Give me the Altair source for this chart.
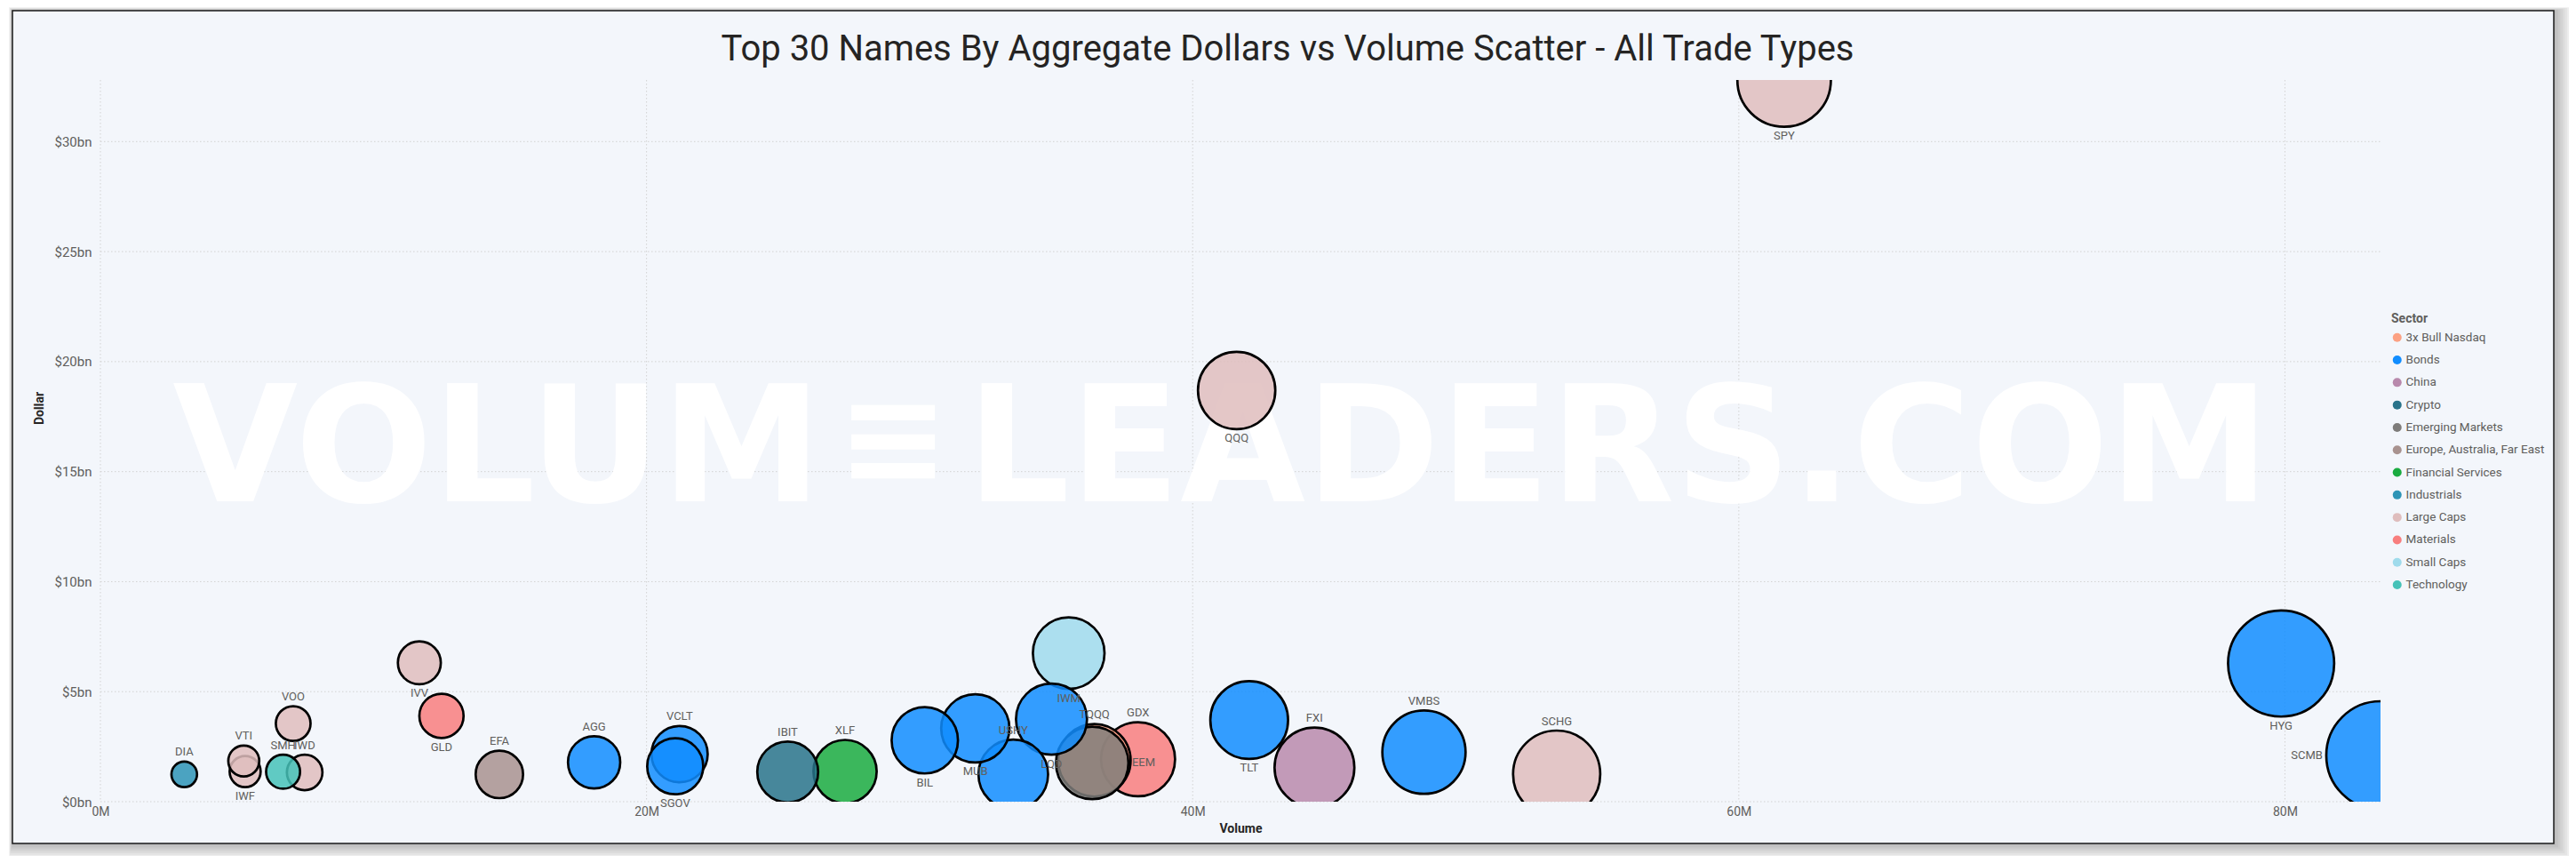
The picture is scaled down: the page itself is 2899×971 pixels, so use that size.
import altair as alt
import pandas as pd

# ---------------- data ----------------
tickers = ["SPY", "QQQ", "HYG", "SCMB", "VMBS", "SCHG", "FXI", "TLT", "GDX", "EEM",
           "TQQQ", "IWM", "LQD", "USHY", "MUB", "BIL", "XLF", "IBIT", "SGOV", "VCLT",
           "AGG", "EFA", "GLD", "IVV", "VOO", "IWD", "SMH", "VTI", "IWF", "DIA"]
sectors = ["Large Caps", "Large Caps", "Bonds", "Bonds", "Bonds", "Large Caps", "China", "Bonds",
           "Materials", "Emerging Markets", "3x Bull Nasdaq", "Small Caps", "Bonds", "Bonds",
           "Bonds", "Bonds", "Financial Services", "Crypto", "Bonds", "Bonds", "Bonds",
           "Europe, Australia, Far East", "Materials", "Large Caps", "Large Caps", "Large Caps",
           "Technology", "Large Caps", "Large Caps", "Industrials"]
volume_m = [61.66, 41.61, 79.86, 83.50, 48.47, 53.33, 44.46, 42.07, 38.00, 36.32,
            36.40, 35.46, 34.83, 33.43, 32.04, 30.19, 27.27, 25.17, 21.05, 21.21,
            18.08, 14.61, 12.49, 11.68, 7.06, 7.48, 6.69, 5.25, 5.30, 3.07]
dollar_bn = [32.80, 18.69, 6.28, 2.10, 2.25, 1.25, 1.55, 3.71, 1.93, 1.76,
             1.88, 6.75, 3.75, 1.24, 3.33, 2.79, 1.37, 1.35, 1.61, 2.16,
             1.79, 1.24, 3.90, 6.31, 3.55, 1.33, 1.36, 1.85, 1.37, 1.24]
label_side = ["below", "below", "below", "left", "above", "above", "above", "below", "above", "right",
              "above", "below", "below", "above", "below", "below", "above", "above", "below", "above",
              "above", "above", "below", "below", "above", "above", "above", "above", "below", "above"]

sector_names = ["3x Bull Nasdaq", "Bonds", "China", "Crypto", "Emerging Markets",
                "Europe, Australia, Far East", "Financial Services", "Industrials",
                "Large Caps", "Materials", "Small Caps", "Technology"]
sector_colors = ["#FCA183", "#118DFF", "#B889AC", "#28738A", "#7E7C7A", "#A8928F",
                 "#1AAB40", "#2D94B6", "#DFBDBD", "#F87E7E", "#9FDBEC", "#45C2B8"]

x_ticks_m = [0, 20, 40, 60, 80]
y_ticks_bn = [0, 5, 10, 15, 20, 25, 30]

TITLE = "Top 30 Names By Aggregate Dollars vs Volume Scatter - All Trade Types"

df = pd.DataFrame({
    "Ticker": tickers,
    "Sector": sectors,
    "Volume": [v * 1e6 for v in volume_m],
    "Dollar": [d * 1e9 for d in dollar_bn],
    "Side": label_side,
})
xgrid = pd.DataFrame({"Volume": [t * 1e6 for t in x_ticks_m]})
ygrid = pd.DataFrame({"Dollar": [t * 1e9 for t in y_ticks_bn]})

# ---------------- layout ----------------
W, H = 2566, 812
PAD = {"left": 105, "top": 82, "right": 212, "bottom": 61}
FX1, FY1, FX2, FY2 = -99, -78, 2761, 859   # frame, relative to plot area
BG = "#F3F6FB"
FONT = "Roboto"
GREY = "#605E5C"
DARK = "#252423"

xmax = float(df["Volume"].max())
ymax = float(df["Dollar"].max())
vmin = float(df["Volume"].min())
vmax = xmax
S_MIN, S_MAX = 830, 14900

xscale = alt.Scale(domain=[0, xmax], nice=False, zero=False)
yscale = alt.Scale(domain=[0, ymax], nice=False, zero=False)

xaxis = alt.Axis(values=[t * 1e6 for t in x_ticks_m],
                 labelExpr="format(datum.value/1e6, 'd') + 'M'",
                 grid=False, domain=False, ticks=False, tickSize=0, labelPadding=4,
                 labelFont=FONT, labelFontSize=14, labelColor=GREY, labelFlush=False,
                 labelOverlap=False, titleFont=FONT, titleFontSize=14, titleFontWeight="bold",
                 titleColor=DARK, titleY=30, titleBaseline="middle", zindex=1)
yaxis = alt.Axis(values=[t * 1e9 for t in y_ticks_bn],
                 labelExpr="'$' + format(datum.value/1e9, 'd') + 'bn'",
                 grid=False, domain=False, ticks=False, tickSize=0, labelPadding=10,
                 labelFont=FONT, labelFontSize=15, labelColor=GREY, labelOverlap=False,
                 titleFont=FONT, titleFontSize=14, titleFontWeight="bold", titleColor=DARK,
                 titleX=-69, titleY=369, titleAngle=270, titleAlign="center",
                 titleBaseline="middle", zindex=1)


def X(field):
    return alt.X(f"{field}:Q", scale=xscale, axis=xaxis, title="Volume")


def Y(field):
    return alt.Y(f"{field}:Q", scale=yscale, axis=yaxis, title="Dollar")


one = alt.Data(values=[{"a": 1}])

# shadow + frame
layers = []
for k in range(1, 9):
    layers.append(
        alt.Chart(one).mark_rect(fill="black", opacity=0.035).encode(
            x=alt.value(FX1 - k * 0.5), x2=alt.value(FX2 + k * 2.5),
            y=alt.value(FY1 - k * 0.5), y2=alt.value(FY2 + k * 2.2))
    )
layers.append(
    alt.Chart(one).mark_rect(fill=BG, stroke="#1A1A1A", strokeWidth=1.5).encode(
        x=alt.value(FX1), x2=alt.value(FX2), y=alt.value(FY1), y2=alt.value(FY2))
)

# grid
grid_style = dict(color="#D2D2D2", strokeWidth=1, strokeDash=[1.5, 2.5])
layers.append(
    alt.Chart(xgrid).mark_rule(**grid_style).encode(
        x=X("Volume"), y=alt.value(0), y2=alt.value(H))
)
layers.append(
    alt.Chart(ygrid).mark_rule(**grid_style).encode(
        y=Y("Dollar"), x=alt.value(0), x2=alt.value(W))
)

# watermark
wm = dict(font="DejaVu Sans", fontWeight="bold", fontSize=182, color="white", opacity=1,
          baseline="alphabetic")
layers.append(alt.Chart(one).mark_text(text="VOLUM", align="right", **wm).encode(
    x=alt.value(812), y=alt.value(474)))
layers.append(alt.Chart(one).mark_text(text="LEADERS.COM", align="left", **wm).encode(
    x=alt.value(975), y=alt.value(474)))
layers.append(alt.Chart(one).mark_text(text="\u2261", align="center", baseline="middle",
                                       font="DejaVu Sans", fontWeight="bold", fontSize=150,
                                       color="white").encode(
    x=alt.value(892), y=alt.value(409)))

# bubbles
base = alt.Chart(df)
bubbles = base.mark_circle(opacity=1, fillOpacity=0.85, stroke="black", strokeWidth=2.7,
                           strokeOpacity=1, clip=True).encode(
    x=X("Volume"),
    y=Y("Dollar"),
    size=alt.Size("Volume:Q", scale=alt.Scale(domain=[vmin, vmax], range=[S_MIN, S_MAX],
                                              zero=False), legend=None),
    color=alt.Color("Sector:N", scale=alt.Scale(domain=sector_names, range=sector_colors),
                    legend=alt.Legend(title="Sector", orient="none", legendX=2578, legendY=262,
                                      symbolType="circle", symbolSize=100, symbolStrokeWidth=0,
                                      symbolOpacity=1, labelFont=FONT, labelFontSize=13.5,
                                      labelColor=GREY, titleFont=FONT, titleFontSize=14,
                                      titleFontWeight="bold", titleColor=GREY, titlePadding=7,
                                      rowPadding=10.3, labelOffset=3, padding=0)),
    order=alt.Order("Volume:Q", sort="descending"),
)
layers.append(bubbles)

# labels
lab = base.transform_calculate(
    r=f"sqrt({S_MIN} + (datum.Volume - {vmin})/({vmax - vmin})*{S_MAX - S_MIN})/2"
).transform_calculate(
    ly=f"datum.Dollar + (datum.Side == 'above' ? 1 : (datum.Side == 'below' ? -1 : 0))*(datum.r + 10.5)*{ymax}/{H}",
    lx=f"datum.Volume + (datum.Side == 'left' ? -1 : (datum.Side == 'right' ? 1 : 0))*(datum.r + 4)*{xmax}/{W}",
)
lab_style = dict(font=FONT, fontSize=13, color=GREY, baseline="middle")
for sides, align in [(["above", "below"], "center"), (["left"], "right"), (["right"], "left")]:
    layers.append(
        lab.transform_filter(alt.FieldOneOfPredicate(field="Side", oneOf=sides))
        .mark_text(align=align, **lab_style).encode(
            x=X("lx"), y=Y("ly"), text="Ticker:N")
    )

# chart title as text
layers.append(alt.Chart(one).mark_text(text=TITLE, font=FONT, fontSize=40, fontWeight="normal",
                                       color=DARK, align="center", baseline="middle").encode(
    x=alt.value(W / 2 + 53), y=alt.value(-34)))

chart = alt.layer(*layers).properties(
    width=W, height=H, padding=PAD,
    autosize=alt.AutoSizeParams(type="none"),
    background="white",
).configure_view(stroke=None)

chart.save("out.html", embed_options={"renderer": "svg", "actions": False})
